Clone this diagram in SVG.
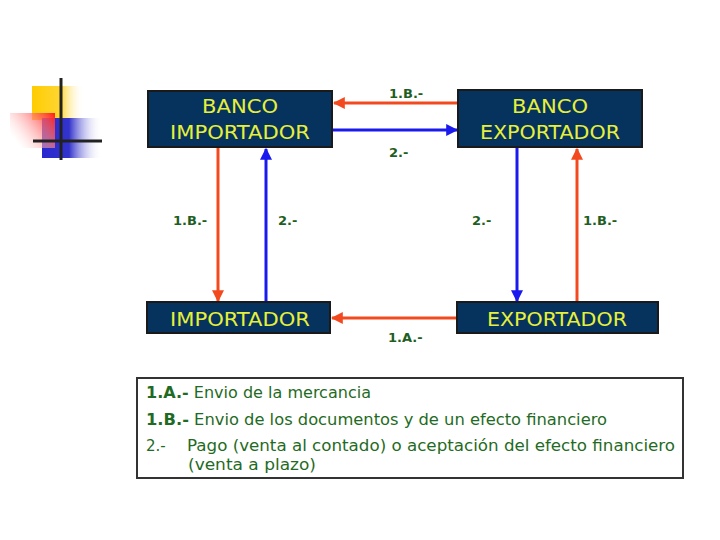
<svg xmlns="http://www.w3.org/2000/svg" width="720" height="540" viewBox="0 0 720 540">
<defs>
<linearGradient id="gy" x1="0" y1="0" x2="1" y2="0"><stop offset="0" stop-color="#ffcc00"/><stop offset="0.55" stop-color="#ffd633"/><stop offset="1" stop-color="#ffffff" stop-opacity="0"/></linearGradient>
<linearGradient id="gb" x1="0" y1="0" x2="1" y2="0"><stop offset="0" stop-color="#2828d0"/><stop offset="0.45" stop-color="#3333cc"/><stop offset="1" stop-color="#ffffff" stop-opacity="0"/></linearGradient>
<linearGradient id="gr" x1="1" y1="0" x2="0" y2="0.6"><stop offset="0" stop-color="#ff1a1a"/><stop offset="1" stop-color="#ffffff" stop-opacity="0.3"/></linearGradient>
<marker id="ar" viewBox="0 0 10 10" refX="9" refY="5" markerWidth="12" markerHeight="12" markerUnits="userSpaceOnUse" orient="auto"><path d="M0,0 L10,5 L0,10 z" fill="#f24a1e"/></marker>
<marker id="ab" viewBox="0 0 10 10" refX="9" refY="5" markerWidth="12" markerHeight="12" markerUnits="userSpaceOnUse" orient="auto"><path d="M0,0 L10,5 L0,10 z" fill="#1a1aee"/></marker>
</defs>
<style>
.box{fill:#06325e;stroke:#1a1a1a;stroke-width:2}
.bt{font-family:"DejaVu Sans",Verdana,sans-serif;font-size:19px;fill:#e6f03a;text-anchor:middle}
.lb{font-family:"DejaVu Sans",Verdana,sans-serif;font-size:13px;font-weight:bold;fill:#1f5e22}
.lg{font-family:"DejaVu Sans",Verdana,sans-serif;font-size:15px;fill:#1f6b24}
.r{stroke:#f24a1e;stroke-width:3;fill:none;marker-end:url(#ar)}
.b{stroke:#1a1aee;stroke-width:3;fill:none;marker-end:url(#ab)}
</style>
<rect width="720" height="540" fill="#ffffff"/>
<g id="logo">
<rect x="32" y="86" width="52" height="34" fill="url(#gy)"/>
<rect x="42" y="118" width="60" height="40" fill="url(#gb)"/>
<rect x="10" y="113" width="45" height="35" fill="url(#gr)"/>
<line x1="61" y1="78" x2="61" y2="160" stroke="#222" stroke-width="3"/>
<line x1="33" y1="141" x2="102" y2="141" stroke="#222" stroke-width="3"/>
</g>
<g id="connectors">
<line class="r" x1="457" y1="103" x2="334" y2="103"/>
<line class="b" x1="333" y1="130" x2="457" y2="130"/>
<line class="r" x1="218" y1="148" x2="218" y2="301"/>
<line class="b" x1="266" y1="302" x2="266" y2="149"/>
<line class="b" x1="517" y1="148" x2="517" y2="301"/>
<line class="r" x1="577" y1="302" x2="577" y2="149"/>
<line class="r" x1="457" y1="318" x2="332" y2="318"/>
<text class="lb" x="389" y="98">1.B.-</text>
<text class="lb" x="389" y="157">2.-</text>
<text class="lb" x="173" y="225">1.B.-</text>
<text class="lb" x="278" y="225">2.-</text>
<text class="lb" x="472" y="225">2.-</text>
<text class="lb" x="583" y="225">1.B.-</text>
<text class="lb" x="388" y="342">1.A.-</text>
</g>
<g id="banco-importador">
<rect class="box" x="148" y="91" width="184" height="56"/>
<text class="bt" x="240" y="113" textLength="76" lengthAdjust="spacingAndGlyphs">BANCO</text>
<text class="bt" x="240" y="139" textLength="140" lengthAdjust="spacingAndGlyphs">IMPORTADOR</text>
</g>
<g id="banco-exportador">
<rect class="box" x="458" y="90" width="184" height="57"/>
<text class="bt" x="550" y="113" textLength="76" lengthAdjust="spacingAndGlyphs">BANCO</text>
<text class="bt" x="550" y="139" textLength="140" lengthAdjust="spacingAndGlyphs">EXPORTADOR</text>
</g>
<g id="importador">
<rect class="box" x="147" y="302" width="183" height="31"/>
<text class="bt" x="240" y="326" textLength="140" lengthAdjust="spacingAndGlyphs">IMPORTADOR</text>
</g>
<g id="exportador">
<rect class="box" x="457" y="302" width="201" height="31"/>
<text class="bt" x="557" y="326" textLength="140" lengthAdjust="spacingAndGlyphs">EXPORTADOR</text>
</g>
<g id="legend">
<rect x="137" y="378" width="546" height="100" fill="#ffffff" stroke="#333" stroke-width="2"/>
<text class="lg" x="146" y="398" textLength="225" lengthAdjust="spacingAndGlyphs"><tspan font-weight="bold">1.A.-</tspan> Envio de la mercancia</text>
<text class="lg" x="146" y="425" textLength="461" lengthAdjust="spacingAndGlyphs"><tspan font-weight="bold">1.B.-</tspan> Envio de los documentos y de un efecto financiero</text>
<text class="lg" x="146" y="451">2.-</text>
<text class="lg" x="187" y="451" textLength="488" lengthAdjust="spacingAndGlyphs">Pago (venta al contado) o aceptación del efecto financiero</text>
<text class="lg" x="188" y="470" textLength="128" lengthAdjust="spacingAndGlyphs">(venta a plazo)</text>
</g>
</svg>
